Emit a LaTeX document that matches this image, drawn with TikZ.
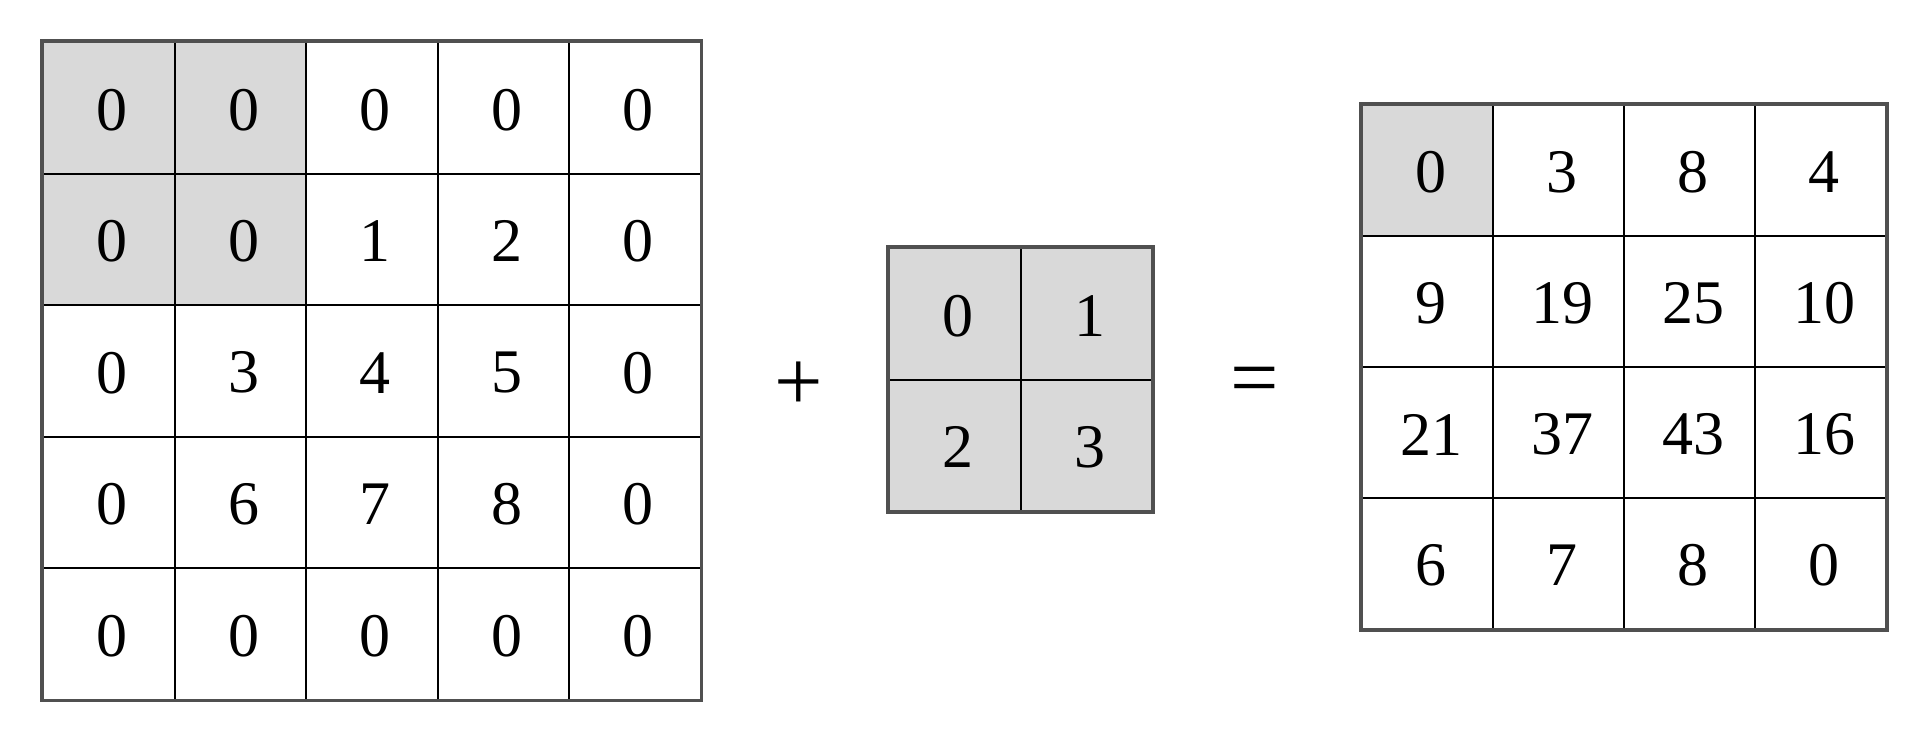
\documentclass[tikz,border=0pt]{standalone}
\usepackage{fontspec}
\setmainfont{Liberation Serif}
\definecolor{cellgray}{HTML}{D9D9D9}
\definecolor{edgegray}{HTML}{505050}
\begin{document}
\begin{tikzpicture}[x=0.5pt,y=-0.5pt,
  cell/.style={draw=black,line width=1pt,minimum size=65.75pt,inner sep=0pt,
    label={[inner sep=0pt,xshift=1.8pt,yshift=-1pt,font=\fontsize{31}{37}\selectfont]center:#1}},
  rcell/.style={cell=#1,minimum size=65.5pt},
  border/.style={draw=edgegray,line width=1.6pt},
  op/.style={font=\fontsize{43}{50}\selectfont,inner sep=0pt}]
\useasboundingbox[fill=white] (0,0) rectangle (1920,736);
% left 5x5 grid
\foreach \row [count=\r] in {
  {0/cellgray,0/cellgray,0/white,0/white,0/white},
  {0/cellgray,0/cellgray,1/white,2/white,0/white},
  {0/white,3/white,4/white,5/white,0/white},
  {0/white,6/white,7/white,8/white,0/white},
  {0/white,0/white,0/white,0/white,0/white}} {
  \foreach \v/\f [count=\c] in \row {
    \node[cell=\v,fill=\f] (L-\r-\c) at ({43+131.5*(\c-0.5)},{42+131.5*(\r-0.5)}) {};
  }
}
\draw[border] (L-1-1.north west) rectangle (L-5-5.south east);
% middle 2x2 kernel
\foreach \row [count=\r] in {{0,1},{2,3}} {
  \foreach \v [count=\c] in \row {
    \node[cell=\v,fill=cellgray] (M-\r-\c) at ({889+131.5*(\c-0.5)},{248+131.5*(\r-0.5)}) {};
  }
}
\draw[border] (M-1-1.north west) rectangle (M-2-2.south east);
% right 4x4 result
\foreach \row [count=\r] in {
  {0/cellgray,3/white,8/white,4/white},
  {9/white,19/white,25/white,10/white},
  {21/white,37/white,43/white,16/white},
  {6/white,7/white,8/white,0/white}} {
  \foreach \v/\f [count=\c] in \row {
    \node[rcell=\v,fill=\f] (R-\r-\c) at ({1362+131*(\c-0.5)},{105+131*(\r-0.5)}) {};
  }
}
\draw[border] (R-1-1.north west) rectangle (R-4-4.south east);
% operators
\node[op] (plus) at (799,386) {+};
\node[op] (equals) at (1255,387) {=};
\end{tikzpicture}
\end{document}
